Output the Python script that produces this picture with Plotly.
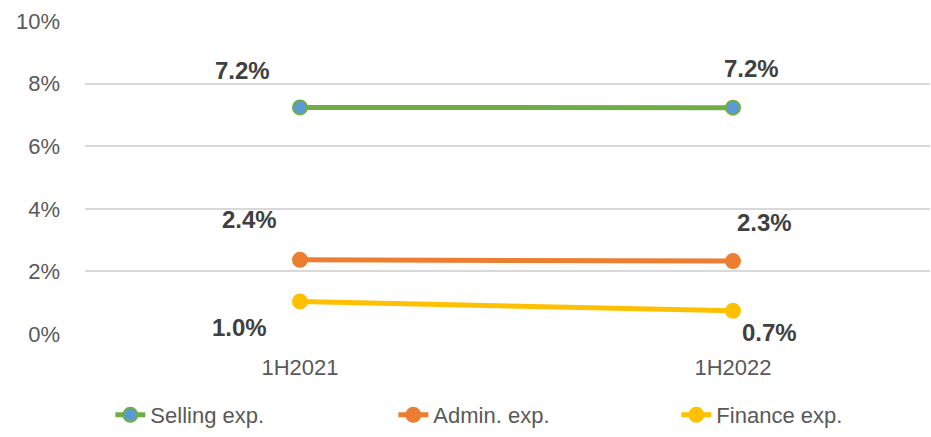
import plotly.graph_objects as go

categories = ["1H2021", "1H2022"]
selling = [7.24, 7.23]
admin = [2.37, 2.33]
finance = [1.04, 0.74]
series_names = ["Selling exp.", "Admin. exp.", "Finance exp."]
y_ticks = [0, 2, 4, 6, 8, 10]
y_tick_labels = ["0%", "2%", "4%", "6%", "8%", "10%"]

FONT = "Liberation Sans, Arial, sans-serif"

styles = [
    dict(line="#70AD47", fill="#5B9BD5", border="#70AD47"),
    dict(line="#ED7D31", fill="#ED7D31", border="#ED7D31"),
    dict(line="#FFC000", fill="#FFC000", border="#FFC000"),
]
# label pixel offsets (x, y) for each point of each series
label_offsets = [
    [(-57, 37), (19, 39)],
    [(-50, 40), (32, 39)],
    [(-60, -26), (37, -22)],
]

fig = go.Figure()
all_series = [selling, admin, finance]
for name, vals, st in zip(series_names, all_series, styles):
    fig.add_trace(go.Scatter(
        x=categories, y=vals, name=name, mode="lines+markers",
        line=dict(color=st["line"], width=5),
        marker=dict(size=14, color=st["fill"], line=dict(color=st["border"], width=2)),
        hoverinfo="skip",
    ))

for vals, offs in zip(all_series, label_offsets):
    for cat, v, (dx, dy) in zip(categories, vals, offs):
        fig.add_annotation(
            x=cat, y=v, xref="x", yref="y", text=f"{v:.1f}%", showarrow=False,
            xshift=dx, yshift=dy,
            font=dict(family=FONT, size=24, color="#404040", weight="bold"),
        )

fig.update_layout(
    width=931, height=437,
    margin=dict(l=85, r=1, t=21, b=103, autoexpand=False),
    paper_bgcolor="white", plot_bgcolor="white",
    font=dict(family=FONT, size=22, color="#595959"),
    showlegend=True,
    legend=dict(
        orientation="h", x=0.03, xanchor="left", y=-0.259, yanchor="middle",
        entrywidth=238, entrywidthmode="pixels",
        bgcolor="rgba(0,0,0,0)",
        font=dict(family=FONT, size=22, color="#595959"),
        itemclick=False,
    ),
    xaxis=dict(
        type="category", range=[-0.4965, 1.455],
        showgrid=False, showline=False, zeroline=False,
        ticks="", ticklabelstandoff=18,
        tickfont=dict(family=FONT, size=22, color="#595959"),
    ),
    yaxis=dict(
        range=[0, 10], tickvals=y_ticks, ticktext=y_tick_labels,
        showgrid=True, gridcolor="#D9D9D9", gridwidth=1.5,
        zeroline=False, showline=False, ticks="",
        ticklabelstandoff=24,
        tickfont=dict(family=FONT, size=22, color="#595959"),
    ),
)

fig.write_html("out.html")
